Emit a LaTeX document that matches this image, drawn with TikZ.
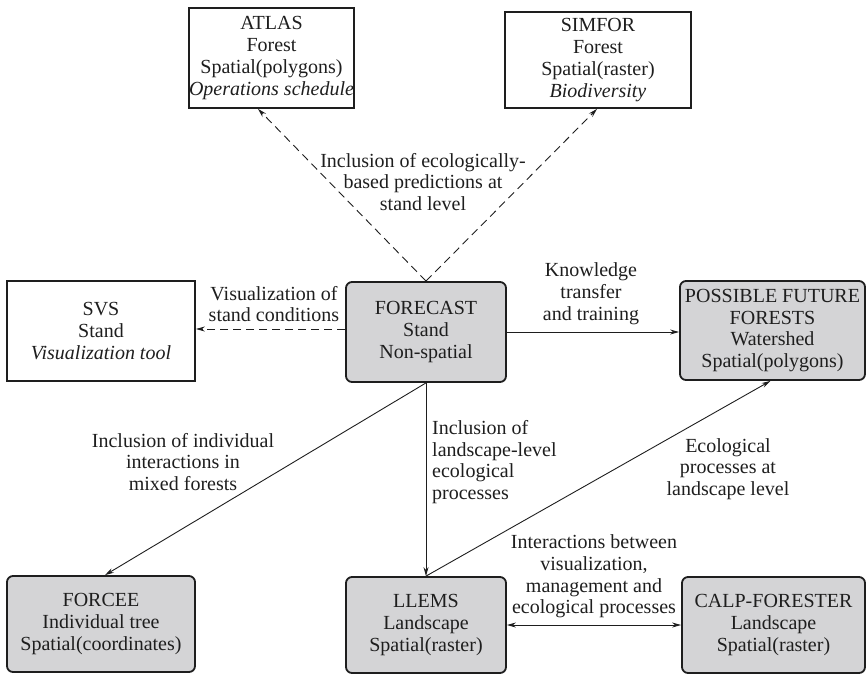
\documentclass[tikz,border=0pt]{standalone}
\usepackage{fontspec}
\setmainfont{Liberation Serif}
\usetikzlibrary{arrows.meta,calc}
\definecolor{ink}{HTML}{1E1E1E}
\definecolor{boxfill}{HTML}{D4D4D6}
\tikzset{
  every node/.style={font=\fontsize{20}{21.8}\selectfont, text=ink, inner sep=0pt},
  plainbox/.style={draw=ink, line width=1.8pt, align=center},
  greybox/.style={draw=ink, line width=1.8pt, fill=boxfill, rounded corners=6pt, align=center},
  lbl/.style={align=center},
  conn/.style={draw=ink, line width=0.9pt, -{Stealth[length=9pt,width=5pt]}},
  dconn/.style={conn, dash pattern=on 8pt off 5pt},
}
\begin{document}
\begin{tikzpicture}[x=1pt,y=-1pt]
\useasboundingbox (0,0) rectangle (866,675);
% boxes
\node[plainbox, minimum width=151pt, minimum height=100pt] (atlas) at (271.5,58) {ATLAS\\Forest\\Spatial(polygons)\\\textit{Operations schedule}};
\node[plainbox, minimum width=186pt, minimum height=96pt] (simfor) at (598,60) {SIMFOR\\Forest\\Spatial(raster)\\\textit{Biodiversity}};
\node[plainbox, minimum width=188pt, minimum height=100pt] (svs) at (101,331) {SVS\\Stand\\\textit{Visualization tool}};
\node[greybox, minimum width=160pt, minimum height=100pt] (forecast) at (426,332) {FORECAST\\Stand\\Non-spatial};
\node[greybox, minimum width=185pt, minimum height=99pt] (pff) at (772.5,330.5) {POSSIBLE FUTURE\\FORESTS\\Watershed\\Spatial(polygons)};
\node[greybox, minimum width=188pt, minimum height=96pt] (forcee) at (101,624) {FORCEE\\Individual tree\\Spatial(coordinates)};
\node[greybox, minimum width=160pt, minimum height=96pt] (llems) at (426,625) {LLEMS\\Landscape\\Spatial(raster)};
\node[greybox, minimum width=183pt, minimum height=96pt] (calp) at (773.5,625) {CALP-FORESTER\\Landscape\\Spatial(raster)};
% connectors
\draw[dconn] (forecast.north) -- ([xshift=-13.5pt]atlas.south);
\draw[dconn] (forecast.north) -- ([xshift=-1pt]simfor.south);
\draw[dconn] ([yshift=3pt]forecast.west) -- ([yshift=3pt]forecast.west -| svs.east);
\draw[conn] (forecast.east) -- (forecast.east -| pff.west);
\draw[conn] (forecast.south) -- ([xshift=4pt]forcee.north);
\draw[conn] (forecast.south) -- (llems.north);
\draw[conn] (llems.north) -- ([xshift=-2pt]pff.south);
\draw[conn, {Stealth[length=9pt,width=5pt]}-{Stealth[length=9pt,width=5pt]}] (llems.east) -- (calp.west);
% labels
\node[lbl] (l1) at (423,182) {Inclusion of ecologically-\\based predictions at\\stand level};
\node[lbl] (l2) at (274,304) {Visualization of\\stand conditions};
\node[lbl] (l3) at (591,294) {Knowledge\\transfer\\and training};
\node[lbl] (l4) at (183,462) {Inclusion of individual\\interactions in\\mixed forests};
\node[lbl, align=left, anchor=west] (l5) at (432,462) {Inclusion of\\landscape-level\\ecological\\processes};
\node[lbl] (l6) at (728,469) {Ecological\\processes at\\landscape level};
\node[lbl] (l7) at (594,576.5) {Interactions between\\visualization,\\management and\\ecological processes};
\end{tikzpicture}
\end{document}
